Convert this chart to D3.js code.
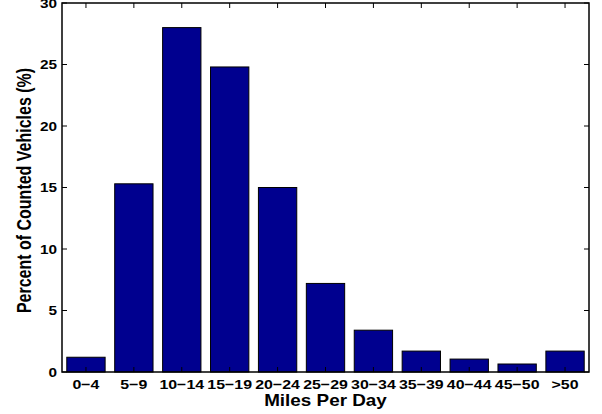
<!DOCTYPE html>
<meta charset="utf-8">
<script src="https://cdn.jsdelivr.net/npm/d3@7"></script>
<style>
    body { margin: 0; background: #fff; }
    text { font-family: "Liberation Sans", Arial, sans-serif; font-weight: bold; fill: #000; }
</style>
<body>
<div id="chart"></div>
<script>

    var categories = ["0\u22124", "5\u22129", "10\u221214", "15\u221219", "20\u221224", "25\u221229", "30\u221234", "35\u221239", "40\u221244", "45\u221250", ">50"]
    var percents = [1.2, 15.3, 28.0, 24.8, 15.0, 7.2, 3.4, 1.7, 1.05, 0.65, 1.7]
    var yTicks = [0, 5, 10, 15, 20, 25, 30]

    var W = 602, H = 414
    var pad_l = 62, pad_t = 3, pad_r = 589, pad_b = 372
    var w = pad_r - pad_l, h = pad_b - pad_t
    var stretch = 1.18 // text in the source looks horizontally stretched

    var svg = d3.select("#chart").append("svg").attr("width", W).attr("height", H)
    var g = svg.append("g").attr("transform", "translate(" + pad_l + "," + pad_t + ")")

    var x_scale = d3.scaleBand().domain(categories).range([0, w]).paddingInner(0.2).paddingOuter(0.1)
    var x_center = (d) => x_scale(d) + x_scale.bandwidth() / 2
    var y_scale = d3.scaleLinear().domain([0, 30]).range([h, 0])

    // bars
    g.selectAll(".bar").data(percents).enter().append("rect")
        .attr("class", "bar")
        .attr("x", (d, i) => x_scale(categories[i]))
        .attr("width", x_scale.bandwidth())
        .attr("y", (d) => y_scale(d))
        .attr("height", (d) => h - y_scale(d))
        .style("fill", "#00008f").style("stroke", "#000").style("stroke-width", 1)

    // inner ticks on all four sides
    var tl = 5
    categories.forEach((c) => {
        var xx = x_center(c)
        g.append("line").attr("x1", xx).attr("x2", xx).attr("y1", 0).attr("y2", tl).style("stroke", "#000")
        g.append("line").attr("x1", xx).attr("x2", xx).attr("y1", h).attr("y2", h - tl).style("stroke", "#000")
    })
    yTicks.forEach((t) => {
        var yy = y_scale(t)
        g.append("line").attr("x1", 0).attr("x2", tl).attr("y1", yy).attr("y2", yy).style("stroke", "#000")
        g.append("line").attr("x1", w).attr("x2", w - tl).attr("y1", yy).attr("y2", yy).style("stroke", "#000")
    })

    // box
    g.append("rect").attr("x", 0).attr("y", 0).attr("width", w).attr("height", h)
        .style("fill", "none").style("stroke", "#000").style("stroke-width", 1.5)

    // tick labels
    g.selectAll(".xlab").data(categories).enter().append("text")
        .attr("class", "xlab")
        .attr("transform", (d) => "translate(" + x_center(d) + "," + (h + 17) + ") scale(" + stretch + ",1)")
        .attr("text-anchor", "middle").style("font-size", "13.5px")
        .text((d) => d)

    g.selectAll(".ylab").data(yTicks).enter().append("text")
        .attr("class", "ylab")
        .attr("transform", (d) => "translate(-5," + (y_scale(d) + 4.5) + ") scale(" + stretch + ",1)")
        .attr("text-anchor", "end").style("font-size", "13px")
        .text((d) => d)

    // axis titles
    svg.append("text")
        .attr("transform", "translate(" + (pad_l + w / 2) + ",406) scale(" + stretch + ",1)")
        .attr("text-anchor", "middle").style("font-size", "16px")
        .text("Miles Per Day")

    svg.append("text")
        .attr("transform", "translate(31," + (pad_t + h / 2 + 3) + ") rotate(-90) scale(1," + 1.22 + ")")
        .attr("text-anchor", "middle").style("font-size", "16px")
        .text("Percent of Counted Vehicles (%)")

</script>
</body>
</html>
